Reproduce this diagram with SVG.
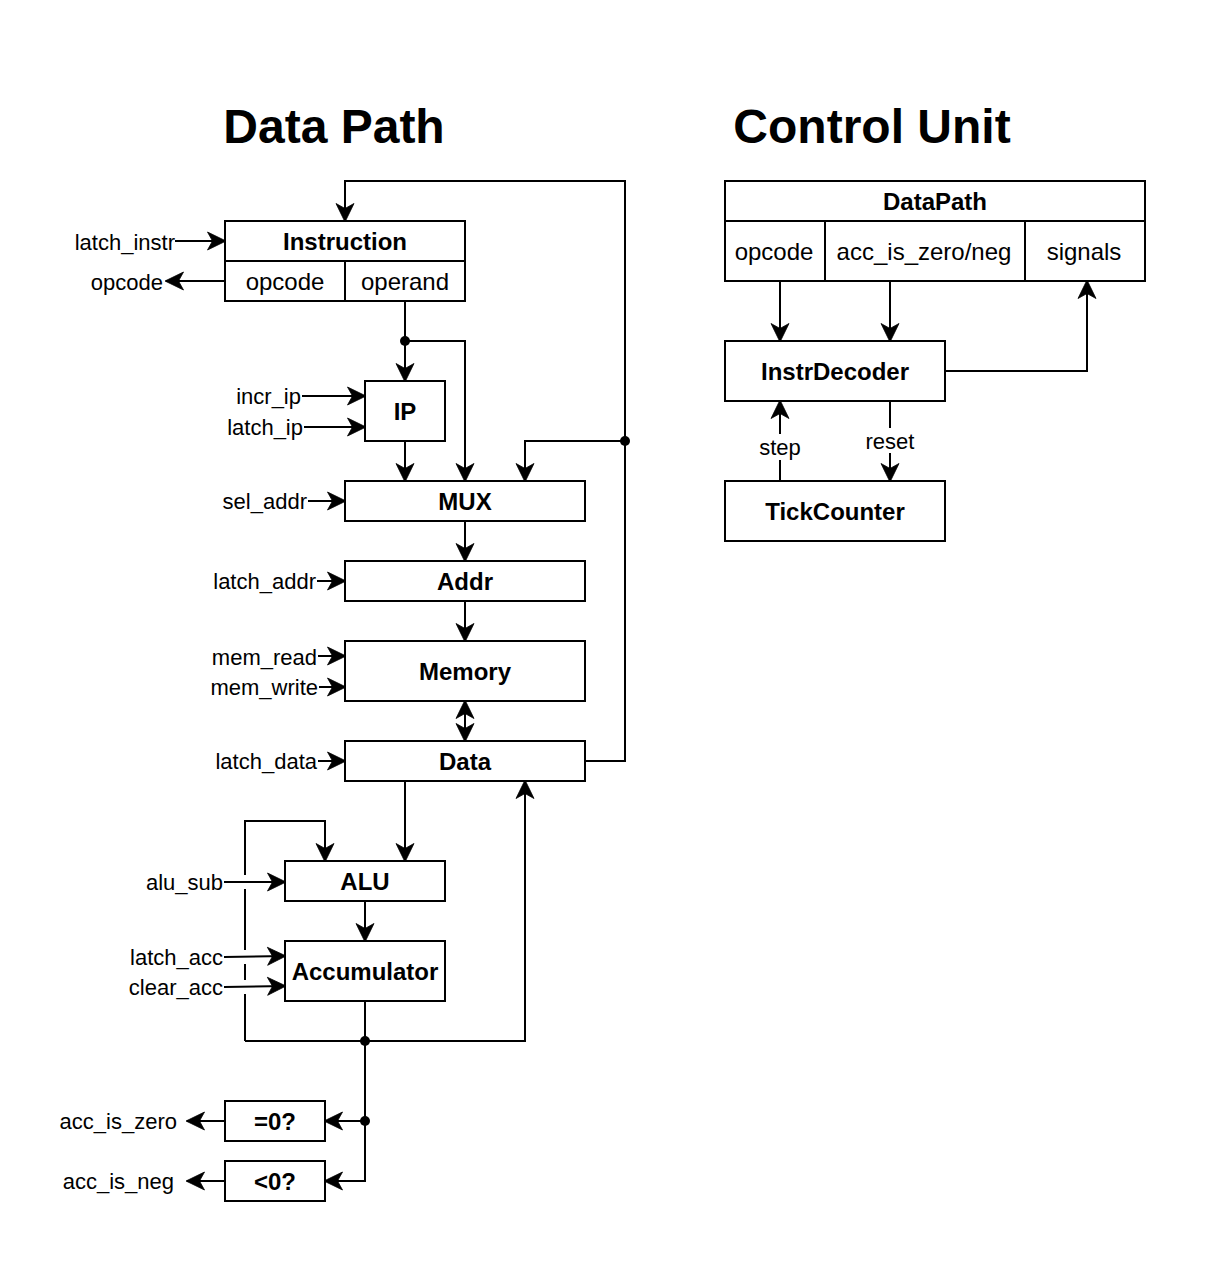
<svg xmlns="http://www.w3.org/2000/svg" width="1208" height="1262" viewBox="0 0 1208 1262">
<style>
text{font-family:"Liberation Sans",Arial,sans-serif;fill:#000}
.title{font-size:48px;font-weight:bold;text-anchor:middle}
.b{font-size:24px;font-weight:bold;text-anchor:middle}
.r{font-size:24px;text-anchor:middle}
.lbl{font-size:22px;text-anchor:end}
.lblc{font-size:22px;text-anchor:middle}
.box{fill:#fff;stroke:#000;stroke-width:2}
.ln{fill:none;stroke:#000;stroke-width:2}
.a{marker-end:url(#arr)}
.aa{marker-end:url(#arr);marker-start:url(#arr)}
</style>
<defs>
<marker id="arr" viewBox="-20 -11 22 22" refX="0" refY="0" markerWidth="22" markerHeight="22" markerUnits="userSpaceOnUse" orient="auto-start-reverse">
<path d="M1,0 L-17.5,-9 L-12.5,0 L-17.5,9 Z" fill="#000" stroke="#000" stroke-width="0.8" stroke-linejoin="miter"/>
</marker>
</defs>
<rect width="1208" height="1262" fill="#fff"/>
<text class="title" x="334" y="143">Data Path</text>
<text class="title" x="872" y="143">Control Unit</text>

<g id="connectors">
<polyline class="ln a" points="585,761 625,761 625,181 345,181 345,221"/>
<polyline class="ln a" points="625,441 525,441 525,481"/>
<line class="ln a" x1="405" y1="301" x2="405" y2="381"/>
<polyline class="ln a" points="405,341 465,341 465,481"/>
<line class="ln a" x1="405" y1="441" x2="405" y2="481"/>
<line class="ln a" x1="465" y1="521" x2="465" y2="561"/>
<line class="ln a" x1="465" y1="601" x2="465" y2="641"/>
<line class="ln aa" x1="465" y1="701" x2="465" y2="741"/>
<line class="ln a" x1="405" y1="781" x2="405" y2="861"/>
<line class="ln a" x1="365" y1="901" x2="365" y2="941"/>
<line class="ln" x1="365" y1="1001" x2="365" y2="1181"/>
<polyline class="ln a" points="245,1041 525,1041 525,781"/>
<polyline class="ln" points="245,1041 245,994"/>
<polyline class="ln" points="245,980 245,964"/>
<polyline class="ln" points="245,950 245,889"/>
<polyline class="ln a" points="245,875 245,821 325,821 325,861"/>
<line class="ln a" x1="365" y1="1121" x2="325" y2="1121"/>
<line class="ln a" x1="366" y1="1181" x2="325" y2="1181"/>
<line class="ln a" x1="225" y1="1121" x2="187" y2="1121"/>
<line class="ln a" x1="225" y1="1181" x2="187" y2="1181"/>
<circle cx="405" cy="341" r="5"/>
<circle cx="625" cy="441" r="5"/>
<circle cx="365" cy="1041" r="5"/>
<circle cx="365" cy="1121" r="5"/>
<line class="ln a" x1="175" y1="241" x2="225" y2="241"/>
<line class="ln a" x1="225" y1="281" x2="166" y2="281"/>
<line class="ln a" x1="302" y1="396" x2="365" y2="396"/>
<line class="ln a" x1="304" y1="427" x2="365" y2="427"/>
<line class="ln a" x1="308" y1="501" x2="345" y2="501"/>
<line class="ln a" x1="317" y1="581" x2="345" y2="581"/>
<line class="ln a" x1="318" y1="656" x2="345" y2="656"/>
<line class="ln a" x1="319" y1="687" x2="345" y2="687"/>
<line class="ln a" x1="318" y1="761" x2="345" y2="761"/>
<line class="ln a" x1="224" y1="882" x2="285" y2="882"/>
<line class="ln a" x1="224" y1="957" x2="285" y2="956"/>
<line class="ln a" x1="224" y1="987" x2="285" y2="986"/>
<line class="ln a" x1="780" y1="281" x2="780" y2="341"/>
<line class="ln a" x1="890" y1="281" x2="890" y2="341"/>
<polyline class="ln a" points="945,371 1087,371 1087,281"/>
<line class="ln a" x1="780" y1="481" x2="780" y2="401"/>
<line class="ln a" x1="890" y1="401" x2="890" y2="481"/>
<rect x="758" y="434" width="44" height="26" fill="#fff"/>
<text class="lblc" x="780" y="455">step</text>
<rect x="864" y="428" width="52" height="25" fill="#fff"/>
<text class="lblc" x="890" y="449">reset</text>
</g>

<g id="labels">
<text class="lbl" x="175" y="250">latch_instr</text>
<text class="lbl" x="163" y="290">opcode</text>
<text class="lbl" x="301" y="404">incr_ip</text>
<text class="lbl" x="303" y="435">latch_ip</text>
<text class="lbl" x="307" y="509">sel_addr</text>
<text class="lbl" x="316" y="589">latch_addr</text>
<text class="lbl" x="317" y="665">mem_read</text>
<text class="lbl" x="318" y="695">mem_write</text>
<text class="lbl" x="317" y="769">latch_data</text>
<text class="lbl" x="223" y="890">alu_sub</text>
<text class="lbl" x="223" y="965">latch_acc</text>
<text class="lbl" x="223" y="995">clear_acc</text>
<text class="lbl" x="177" y="1129">acc_is_zero</text>
<text class="lbl" x="174" y="1189">acc_is_neg</text>
</g>

<g id="instruction">
<rect class="box" x="225" y="221" width="240" height="80"/>
<line class="ln" x1="225" y1="261" x2="465" y2="261"/>
<line class="ln" x1="345" y1="261" x2="345" y2="301"/>
<text class="b" x="345" y="250">Instruction</text>
<text class="r" x="285" y="290">opcode</text>
<text class="r" x="405" y="290">operand</text>
</g>
<g id="ip"><rect class="box" x="365" y="381" width="80" height="60"/><text class="b" x="405" y="420">IP</text></g>
<g id="mux"><rect class="box" x="345" y="481" width="240" height="40"/><text class="b" x="465" y="510">MUX</text></g>
<g id="addr"><rect class="box" x="345" y="561" width="240" height="40"/><text class="b" x="465" y="590">Addr</text></g>
<g id="memory"><rect class="box" x="345" y="641" width="240" height="60"/><text class="b" x="465" y="680">Memory</text></g>
<g id="data"><rect class="box" x="345" y="741" width="240" height="40"/><text class="b" x="465" y="770">Data</text></g>
<g id="alu"><rect class="box" x="285" y="861" width="160" height="40"/><text class="b" x="365" y="890">ALU</text></g>
<g id="accumulator"><rect class="box" x="285" y="941" width="160" height="60"/><text class="b" x="365" y="980">Accumulator</text></g>
<g id="is_zero"><rect class="box" x="225" y="1101" width="100" height="40"/><text class="b" x="275" y="1130">=0?</text></g>
<g id="is_neg"><rect class="box" x="225" y="1161" width="100" height="40"/><text class="b" x="275" y="1190">&lt;0?</text></g>

<g id="datapath">
<rect class="box" x="725" y="181" width="420" height="100"/>
<line class="ln" x1="725" y1="221" x2="1145" y2="221"/>
<line class="ln" x1="825" y1="221" x2="825" y2="281"/>
<line class="ln" x1="1025" y1="221" x2="1025" y2="281"/>
<text class="b" x="935" y="210">DataPath</text>
<text class="r" x="774" y="260">opcode</text>
<text class="r" x="924" y="260">acc_is_zero/neg</text>
<text class="r" x="1084" y="260">signals</text>
</g>
<g id="instrdecoder"><rect class="box" x="725" y="341" width="220" height="60"/><text class="b" x="835" y="380">InstrDecoder</text></g>
<g id="tickcounter"><rect class="box" x="725" y="481" width="220" height="60"/><text class="b" x="835" y="520">TickCounter</text></g>
</svg>
